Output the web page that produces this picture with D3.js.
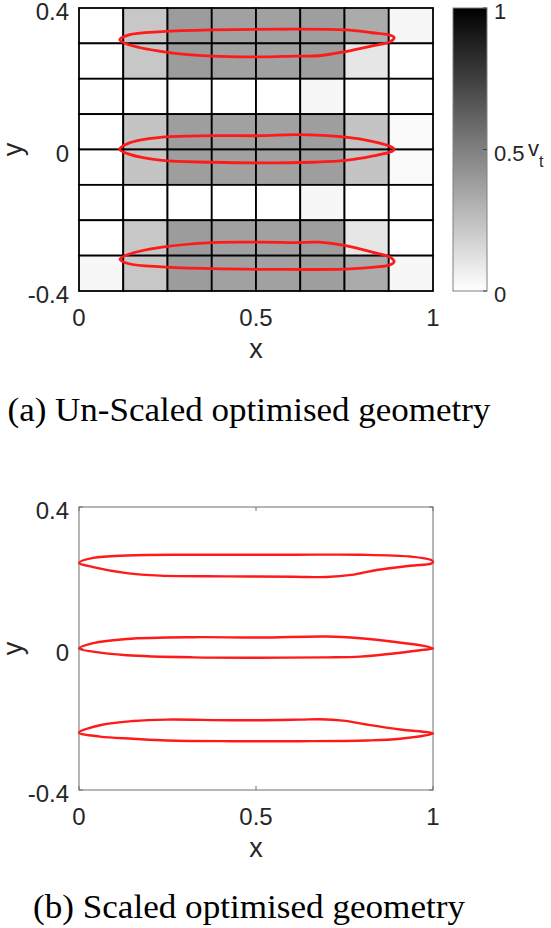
<!DOCTYPE html>
<html>
<head>
<meta charset="utf-8">
<script src="https://cdn.jsdelivr.net/npm/d3@7"></script>
<style>
  html, body { margin: 0; padding: 0; background: #ffffff; }
  svg { display: block; }
</style>
</head>
<body>
<svg id="chart" width="551" height="928"></svg>
<script>
// ---------------- DATA ----------------
const xTicks = [0, 0.5, 1];
const xTickLabels = ["0", "0.5", "1"];
const yTicks = [-0.4, 0, 0.4];
const yTickLabels = ["-0.4", "0", "0.4"];
const cbTicks = [0, 0.5, 1];
const cbTickLabels = ["0", "0.5", "1"];

// cell edges of the design grid
const xEdges = [0, 0.125, 0.25, 0.375, 0.5, 0.625, 0.75, 0.875, 1];
const yEdges = [0.4, 0.3, 0.2, 0.1, 0, -0.1, -0.2, -0.3, -0.4]; // top to bottom

// v_t per cell, rows from top (y 0.3..0.4) to bottom, columns left to right
const vtRows = [
  [0.00, 0.22, 0.39, 0.37, 0.37, 0.38, 0.33, 0.03],
  [0.00, 0.22, 0.39, 0.37, 0.37, 0.38, 0.10, 0.00],
  [0.00, 0.00, 0.00, 0.00, 0.00, 0.03, 0.00, 0.00],
  [0.00, 0.23, 0.38, 0.37, 0.37, 0.38, 0.23, 0.02],
  [0.00, 0.23, 0.38, 0.37, 0.37, 0.38, 0.23, 0.02],
  [0.00, 0.00, 0.00, 0.00, 0.00, 0.03, 0.00, 0.00],
  [0.00, 0.22, 0.39, 0.37, 0.37, 0.38, 0.10, 0.00],
  [0.03, 0.22, 0.39, 0.37, 0.37, 0.38, 0.33, 0.03]
];

// (a) un-scaled geometry outlines
const unscaledTop = [[0.115,0.310],[0.141,0.324],[0.235,0.333],[0.376,0.338],[0.565,0.340],[0.753,0.338],[0.828,0.330],[0.876,0.324],[0.890,0.317],[0.880,0.305],[0.828,0.293],[0.753,0.277],[0.678,0.265],[0.612,0.264],[0.517,0.262],[0.376,0.264],[0.235,0.277],[0.141,0.296]];
const unscaledMid = [[0.115,0.000],[0.141,0.018],[0.235,0.035],[0.376,0.039],[0.517,0.039],[0.612,0.042],[0.753,0.035],[0.828,0.023],[0.885,0.006],[0.890,0.000],[0.885,-0.005],[0.828,-0.019],[0.753,-0.031],[0.659,-0.036],[0.517,-0.038],[0.376,-0.036],[0.235,-0.031],[0.141,-0.013]];
const unscaledBot = [[0.116,-0.310],[0.141,-0.296],[0.235,-0.276],[0.376,-0.263],[0.517,-0.262],[0.612,-0.263],[0.678,-0.262],[0.753,-0.272],[0.828,-0.290],[0.880,-0.305],[0.890,-0.318],[0.876,-0.327],[0.828,-0.333],[0.753,-0.338],[0.565,-0.339],[0.376,-0.337],[0.235,-0.332],[0.141,-0.323]];

// (b) scaled geometry outlines
const scaledTop = [[0.000,0.242],[0.040,0.256],[0.135,0.263],[0.323,0.265],[0.606,0.265],[0.794,0.265],[0.935,0.260],[0.995,0.250],[1.000,0.244],[0.995,0.240],[0.935,0.234],[0.841,0.222],[0.770,0.208],[0.700,0.202],[0.606,0.203],[0.417,0.204],[0.229,0.206],[0.135,0.213],[0.040,0.230]];
const scaledMid = [[0.000,0.000],[0.040,0.015],[0.135,0.027],[0.323,0.032],[0.511,0.031],[0.700,0.034],[0.794,0.029],[0.888,0.019],[0.970,0.008],[1.000,0.000],[0.970,-0.004],[0.888,-0.014],[0.794,-0.023],[0.700,-0.025],[0.511,-0.026],[0.323,-0.025],[0.135,-0.019],[0.040,-0.009]];
const scaledBot = [[0.000,-0.238],[0.059,-0.217],[0.153,-0.205],[0.248,-0.201],[0.435,-0.203],[0.624,-0.201],[0.681,-0.200],[0.746,-0.204],[0.813,-0.215],[0.907,-0.229],[1.000,-0.240],[0.907,-0.255],[0.813,-0.260],[0.624,-0.262],[0.435,-0.262],[0.248,-0.260],[0.153,-0.255],[0.059,-0.249]];

const captionA = "(a) Un-Scaled optimised geometry";
const captionB = "(b) Scaled optimised geometry";

// ---------------- DRAW ----------------
const svg = d3.select("#chart");
const sansFont = "'Liberation Sans', Arial, Helvetica, sans-serif";
const serifFont = "'Liberation Serif', 'DejaVu Serif', serif";
const textColor = "#262626";

const gray = d3.scaleLinear().domain([0, 1]).range(["#ffffff", "#000000"]);

function makeScales(top) {
  const x = d3.scaleLinear().domain([0, 1]).range([79, 433]);
  const y = d3.scaleLinear().domain([-0.4, 0.4]).range([top + 283, top]);
  return {x, y};
}

function drawTickLabels(g, s) {
  g.selectAll(".ytl").data(yTicks).join("text")
    .attr("x", s.x.range()[0] - 10)
    .attr("y", d => s.y(d) + 12)
    .attr("text-anchor", "end")
    .attr("font-family", sansFont).attr("font-size", 24).attr("fill", textColor)
    .text((d, i) => yTickLabels[i]);
  g.selectAll(".xtl").data(xTicks).join("text")
    .attr("x", d => s.x(d))
    .attr("y", s.y.range()[0] + 35)
    .attr("text-anchor", "middle")
    .attr("font-family", sansFont).attr("font-size", 24).attr("fill", textColor)
    .text((d, i) => xTickLabels[i]);
  const xm = (s.x.range()[0] + s.x.range()[1]) / 2;
  g.append("text").attr("x", xm).attr("y", s.y.range()[0] + 67)
    .attr("text-anchor", "middle")
    .attr("font-family", sansFont).attr("font-size", 27).attr("fill", textColor)
    .text("x");
  const ym = (s.y.range()[0] + s.y.range()[1]) / 2;
  g.append("text").attr("transform", `translate(22,${ym}) rotate(-90)`)
    .attr("text-anchor", "middle")
    .attr("font-family", sansFont).attr("font-size", 27).attr("fill", textColor)
    .text("y");
}

const line = d3.line().curve(d3.curveCatmullRomClosed.alpha(0.5));

function drawShapes(g, s, shapes, width) {
  const l = line.x(d => s.x(d[0])).y(d => s.y(d[1]));
  g.selectAll(".shape").data(shapes).join("path")
    .attr("d", d => l(d))
    .attr("fill", "none")
    .attr("stroke", "#ff1a1a")
    .attr("stroke-width", width)
    .attr("stroke-linejoin", "round");
}

// ---- panel (a)
const sA = makeScales(8);
const gA = svg.append("g");
const cells = [];
vtRows.forEach((row, r) => row.forEach((v, c) => cells.push({r, c, v})));
gA.selectAll("rect.cell").data(cells).join("rect")
  .attr("x", d => sA.x(xEdges[d.c]))
  .attr("y", d => sA.y(yEdges[d.r]))
  .attr("width", d => sA.x(xEdges[d.c + 1]) - sA.x(xEdges[d.c]))
  .attr("height", d => sA.y(yEdges[d.r + 1]) - sA.y(yEdges[d.r]))
  .attr("fill", d => gray(d.v))
  .attr("stroke", "#000000")
  .attr("stroke-width", 1.8);
drawShapes(gA, sA, [unscaledTop, unscaledMid, unscaledBot], 2.8);
drawTickLabels(gA, sA);

// colorbar
const cbX0 = 453, cbX1 = 487;
const cbY = d3.scaleLinear().domain([0, 1]).range([291, 8]);
const defs = svg.append("defs");
const grad = defs.append("linearGradient").attr("id", "cbgrad")
  .attr("x1", 0).attr("y1", 1).attr("x2", 0).attr("y2", 0);
d3.range(0, 1.0001, 0.1).forEach(t => {
  grad.append("stop").attr("offset", t).attr("stop-color", gray(t));
});
gA.append("rect").attr("x", cbX0).attr("y", cbY(1))
  .attr("width", cbX1 - cbX0).attr("height", cbY(0) - cbY(1))
  .attr("fill", "url(#cbgrad)")
  .attr("stroke", "#808080").attr("stroke-width", 1);
gA.selectAll(".cbtick").data(cbTicks).join("line")
  .attr("x1", cbX1 - 4).attr("x2", cbX1)
  .attr("y1", d => cbY(d)).attr("y2", d => cbY(d))
  .attr("stroke", "#404040").attr("stroke-width", 1);
gA.selectAll(".cbtl").data(cbTicks).join("text")
  .attr("x", cbX1 + 7)
  .attr("y", d => cbY(d) + 11)
  .attr("font-family", sansFont).attr("font-size", 22).attr("fill", textColor)
  .text((d, i) => cbTickLabels[i]);
gA.append("text")
  .attr("x", 528).attr("y", cbY(0.5) + 6)
  .attr("font-family", sansFont).attr("font-size", 22).attr("fill", textColor)
  .text("v");
gA.append("text")
  .attr("x", 539).attr("y", cbY(0.5) + 17)
  .attr("font-family", sansFont).attr("font-size", 16).attr("fill", textColor)
  .text("t");

svg.append("text").attr("x", 249).attr("y", 421)
  .attr("text-anchor", "middle")
  .attr("font-family", serifFont).attr("font-size", 34).attr("fill", "#000")
  .attr("textLength", 483).attr("lengthAdjust", "spacingAndGlyphs")
  .text(captionA);

// ---- panel (b)
const sB = makeScales(507);
const gB = svg.append("g");
gB.append("rect").attr("x", 79).attr("y", 507).attr("width", 354).attr("height", 283)
  .attr("fill", "#ffffff").attr("stroke", "#6e6e6e").attr("stroke-width", 1);
// inward ticks
gB.selectAll(".xtb").data(xTicks).join("line")
  .attr("x1", d => sB.x(d)).attr("x2", d => sB.x(d))
  .attr("y1", 790).attr("y2", 786).attr("stroke", "#6e6e6e");
gB.selectAll(".xtt").data(xTicks).join("line")
  .attr("x1", d => sB.x(d)).attr("x2", d => sB.x(d))
  .attr("y1", 507).attr("y2", 511).attr("stroke", "#6e6e6e");
gB.selectAll(".ytl2").data(yTicks).join("line")
  .attr("x1", 79).attr("x2", 83)
  .attr("y1", d => sB.y(d)).attr("y2", d => sB.y(d)).attr("stroke", "#6e6e6e");
gB.selectAll(".ytr2").data(yTicks).join("line")
  .attr("x1", 433).attr("x2", 429)
  .attr("y1", d => sB.y(d)).attr("y2", d => sB.y(d)).attr("stroke", "#6e6e6e");
drawShapes(gB, sB, [scaledTop, scaledMid, scaledBot], 2.4);
drawTickLabels(gB, sB);

svg.append("text").attr("x", 249).attr("y", 918)
  .attr("text-anchor", "middle")
  .attr("font-family", serifFont).attr("font-size", 34).attr("fill", "#000")
  .attr("textLength", 432).attr("lengthAdjust", "spacingAndGlyphs")
  .text(captionB);
</script>
</body>
</html>
